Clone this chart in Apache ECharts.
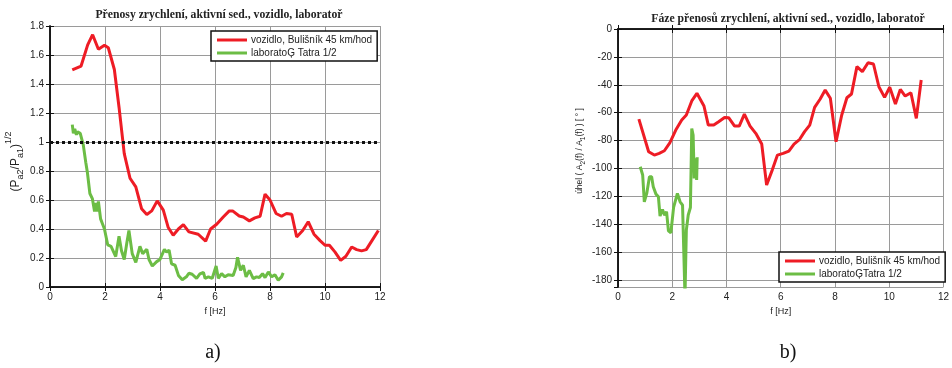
<!DOCTYPE html>
<html>
<head>
<meta charset="utf-8">
<script src="https://cdn.jsdelivr.net/npm/echarts@6/dist/echarts.min.js"></script>
<style>
  html, body { margin: 0; padding: 0; background: #fff; }
  #chart { width: 952px; height: 368px; }
</style>
</head>
<body>
<div id="chart"></div>
<script>
// a) amplitude transfer
const ampVehF = [0.81,1.13,1.37,1.55,1.76,1.98,2.12,2.34,2.51,2.70,2.91,3.12,3.33,3.52,3.70,3.90,4.12,4.30,4.48,4.67,4.85,5.05,5.39,5.66,5.84,6.06,6.3,6.52,6.64,6.88,7.03,7.25,7.45,7.64,7.82,8.0,8.22,8.42,8.6,8.79,8.97,9.19,9.39,9.6,9.82,10.0,10.16,10.36,10.57,10.76,10.97,11.15,11.33,11.5,11.73,11.94]
const ampVehV = [1.497,1.524,1.67,1.74,1.64,1.667,1.65,1.50,1.24,0.92,0.75,0.69,0.54,0.50,0.525,0.594,0.53,0.41,0.357,0.40,0.43,0.38,0.364,0.316,0.40,0.433,0.483,0.525,0.525,0.49,0.483,0.456,0.477,0.488,0.64,0.60,0.507,0.488,0.507,0.502,0.345,0.39,0.45,0.364,0.32,0.288,0.288,0.242,0.184,0.212,0.276,0.258,0.249,0.258,0.327,0.39]
const ampLabF = [0.81,0.85,0.9,0.96,1.0,1.1,1.13,1.21,1.30,1.36,1.45,1.54,1.62,1.66,1.7,1.76,1.84,1.9,1.98,2.1,2.22,2.28,2.39,2.51,2.6,2.7,2.79,2.87,2.99,3.12,3.27,3.37,3.52,3.6,3.72,3.88,4.0,4.16,4.24,4.33,4.42,4.55,4.67,4.81,4.96,5.05,5.17,5.33,5.45,5.58,5.64,5.76,5.9,6.04,6.12,6.24,6.36,6.48,6.66,6.76,6.82,6.93,7.03,7.13,7.25,7.39,7.51,7.61,7.73,7.82,7.94,8.06,8.18,8.3,8.42,8.48]
const ampLabV = [1.12,1.06,1.09,1.05,1.07,1.06,1.06,0.98,0.86,0.79,0.645,0.61,0.52,0.58,0.52,0.59,0.47,0.44,0.40,0.29,0.28,0.29,0.21,0.35,0.25,0.19,0.30,0.39,0.23,0.17,0.28,0.23,0.26,0.19,0.145,0.175,0.19,0.26,0.24,0.255,0.16,0.15,0.08,0.05,0.07,0.095,0.088,0.06,0.09,0.1,0.06,0.07,0.06,0.145,0.06,0.092,0.07,0.085,0.08,0.134,0.205,0.115,0.15,0.07,0.115,0.058,0.07,0.065,0.092,0.065,0.104,0.07,0.085,0.046,0.07,0.097]
const refLevel = 1

// b) phase
const phVehF = [0.77,1.13,1.34,1.52,1.71,1.91,2.13,2.35,2.52,2.72,2.91,3.17,3.33,3.53,3.71,3.93,4.08,4.3,4.47,4.66,4.87,5.08,5.3,5.48,5.69,5.88,6.09,6.3,6.49,6.7,6.88,7.07,7.25,7.45,7.64,7.83,8.04,8.25,8.44,8.61,8.81,9.01,9.22,9.42,9.62,9.83,10.02,10.23,10.41,10.59,10.8,11.0,11.18]
const phVehV = [-64.6,-88,-90.4,-89.2,-87.3,-81.6,-72.5,-65.3,-61.7,-51.6,-46.1,-55.2,-68.9,-68.9,-66.5,-63.4,-63.6,-69.6,-69.6,-61,-69.6,-74.8,-82.5,-111.9,-101,-90.4,-89.2,-87.5,-82.5,-79.1,-73.6,-68.9,-56.2,-50.4,-43.8,-49.7,-80.8,-61.7,-49.3,-46.6,-27,-30.6,-24.2,-25.1,-41.4,-49,-41.8,-53.8,-43.3,-48.1,-45.7,-64.1,-36.6]
const phLabF = [0.82,0.91,0.97,1.06,1.16,1.24,1.30,1.40,1.49,1.55,1.64,1.72,1.79,1.86,1.95,2.05,2.19,2.29,2.38,2.47,2.52,2.59,2.67,2.72,2.77,2.81,2.86,2.9,2.92]
const phLabV = [-98.8,-104.7,-123.9,-117.9,-105.9,-106,-113.1,-118.4,-120.3,-134.1,-129.4,-133.5,-131,-144.7,-146.1,-127.9,-117.9,-123.9,-126.3,-192,-144.2,-133.4,-128,-71.3,-76,-107.1,-92.8,-108.3,-92]

const nameVeh = 'vozidlo, Bulišník 45 km/hod'
const nameLabA = 'laboratoĢ Tatra 1/2'
const nameLabB = 'laboratoĢTatra 1/2'

const RED = '#ee1c25'
const GREEN = '#6cbd45'

function pairs(xs, ys) { return xs.map((x, i) => [x, ys[i]]) }

const tickFont = { fontFamily: 'Liberation Sans', fontSize: 10, color: '#222' }

function bottomX(gi) {
  return {
    type: 'value', gridIndex: gi, min: 0, max: 12, interval: 2,
    axisLine: { lineStyle: { color: '#111', width: 1.5 } },
    axisTick: { inside: true, length: 4, lineStyle: { color: '#111' } },
    axisLabel: Object.assign({ margin: 5 }, tickFont),
    splitLine: { lineStyle: { color: '#9a9a9a', width: 1 } },
    name: 'f [Hz]', nameLocation: 'middle', nameGap: 12,
    nameTextStyle: { fontFamily: 'Liberation Sans', fontSize: 9, color: '#222' }
  }
}
function topX(gi) {
  return {
    type: 'value', gridIndex: gi, position: 'top', min: 0, max: 12, interval: 2,
    axisLine: { lineStyle: { color: '#111', width: 1.5 } },
    axisTick: { inside: true, length: 4, lineStyle: { color: '#111' } },
    axisLabel: { show: false }, splitLine: { show: false }
  }
}
function legendBox(left, top, names) {
  return {
    data: names, left: left, top: top, orient: 'vertical', icon: 'rect',
    itemWidth: 30, itemHeight: 3, itemGap: 3, padding: [4, 5, 3, 6],
    backgroundColor: '#fff', borderColor: '#111', borderWidth: 1.5, borderRadius: 0,
    textStyle: { fontFamily: 'Liberation Sans', fontSize: 10, color: '#222', padding: [0, 0, 0, -1] }
  }
}

const option = {
  animation: false,
  backgroundColor: '#fff',
  title: [
    { text: 'Přenosy zrychlení, aktivní sed., vozidlo, laboratoř', left: 214, top: 4, textAlign: 'center',
      textStyle: { fontFamily: 'Liberation Serif', fontWeight: 'bold', fontSize: 11.7, color: '#222' } },
    { text: 'Fáze přenosů zrychlení, aktivní sed., vozidlo, laboratoř', left: 783, top: 8, textAlign: 'center',
      textStyle: { fontFamily: 'Liberation Serif', fontWeight: 'bold', fontSize: 11.7, color: '#222' } },
    { text: 'a)', left: 208, top: 338, textAlign: 'center',
      textStyle: { fontFamily: 'Liberation Serif', fontWeight: 'normal', fontSize: 20, color: '#111' } },
    { text: 'b)', left: 783, top: 338, textAlign: 'center',
      textStyle: { fontFamily: 'Liberation Serif', fontWeight: 'normal', fontSize: 20, color: '#111' } }
  ],
  legend: [
    legendBox(211, 31, [nameVeh, nameLabA]),
    legendBox(779, 252, [nameVeh, nameLabB])
  ],
  grid: [
    { left: 50, top: 26, width: 330, height: 261 },
    { left: 618, top: 29, width: 329, height: 258 }
  ],
  xAxis: [bottomX(0), topX(0), bottomX(1), topX(1)],
  yAxis: [
    { type: 'value', gridIndex: 0, min: 0, max: 1.8, interval: 0.2,
      axisLine: { show: true, lineStyle: { color: '#111', width: 1.5 } },
      axisTick: { show: true, inside: true, length: 4, lineStyle: { color: '#111' } },
      axisLabel: Object.assign({ margin: 6, formatter: v => String(Math.round(v * 10) / 10) }, tickFont),
      splitLine: { lineStyle: { color: '#9a9a9a', width: 1 } },
      name: '{t|(P}{s|a2}{t|/P}{s|a1}{t|)}{p|1/2}', nameLocation: 'middle', nameGap: 23,
      nameTextStyle: { padding: [0, 10, 0, 0], rich: {
        t: { fontFamily: 'Liberation Sans', fontSize: 12, color: '#222', lineHeight: 22, verticalAlign: 'middle' },
        s: { fontFamily: 'Liberation Sans', fontSize: 9, color: '#222', lineHeight: 22, verticalAlign: 'bottom', padding: [0, 0, 1, 0] },
        p: { fontFamily: 'Liberation Sans', fontSize: 9, color: '#222', lineHeight: 22, verticalAlign: 'top' }
      } } },
    { type: 'value', gridIndex: 0, position: 'right', min: 0, max: 1.8, interval: 0.2,
      axisLine: { show: true, lineStyle: { color: '#111', width: 1.5 } },
      axisTick: { show: true, inside: true, length: 4, lineStyle: { color: '#111' } },
      axisLabel: { show: false }, splitLine: { show: false } },
    { type: 'value', gridIndex: 1, min: -185, max: 0, splitNumber: 9,
      axisLine: { show: true, lineStyle: { color: '#111', width: 1.5 } },
      axisTick: { show: true, inside: true, length: 4, lineStyle: { color: '#111' } },
      axisLabel: Object.assign({ margin: 6, showMinLabel: false }, tickFont),
      splitLine: { lineStyle: { color: '#9a9a9a', width: 1 } },
      name: '{t|úhel ( A}{s|2}{t|(f) / A}{s|1}{t|(f) ) [ ° ]}', nameLocation: 'middle', nameGap: 30,
      nameTextStyle: { padding: [0, 0, 0, 14], rich: {
        t: { fontFamily: 'Liberation Sans', fontSize: 8.5, color: '#222', lineHeight: 16, verticalAlign: 'middle' },
        s: { fontFamily: 'Liberation Sans', fontSize: 6.5, color: '#222', lineHeight: 16, verticalAlign: 'bottom', padding: [0, 0, 1, 0] }
      } } },
    { type: 'value', gridIndex: 1, position: 'right', min: -185, max: 0, splitNumber: 9,
      axisLine: { show: true, lineStyle: { color: '#111', width: 1.5 } },
      axisTick: { show: true, inside: true, length: 4, lineStyle: { color: '#111' } },
      axisLabel: { show: false }, splitLine: { show: false } }
  ],
  series: [
    { name: nameVeh, type: 'line', xAxisIndex: 0, yAxisIndex: 0, data: pairs(ampVehF, ampVehV),
      showSymbol: false, lineStyle: { color: RED, width: 3 }, itemStyle: { color: RED }, z: 3,
      markLine: { silent: true, symbol: 'none', label: { show: false },
        lineStyle: { color: '#111', type: [3, 3], width: 3 }, data: [{ yAxis: refLevel }] } },
    { name: nameLabA, type: 'line', xAxisIndex: 0, yAxisIndex: 0, data: pairs(ampLabF, ampLabV),
      showSymbol: false, lineStyle: { color: GREEN, width: 3 }, itemStyle: { color: GREEN }, z: 2 },
    { name: nameVeh, type: 'line', xAxisIndex: 2, yAxisIndex: 2, data: pairs(phVehF, phVehV),
      showSymbol: false, lineStyle: { color: RED, width: 3 }, itemStyle: { color: RED }, z: 3 },
    { name: nameLabB, type: 'line', xAxisIndex: 2, yAxisIndex: 2, data: pairs(phLabF, phLabV),
      showSymbol: false, lineStyle: { color: GREEN, width: 3 }, itemStyle: { color: GREEN }, z: 2 }
  ]
}

echarts.init(document.getElementById('chart')).setOption(option)
</script>
</body>
</html>
